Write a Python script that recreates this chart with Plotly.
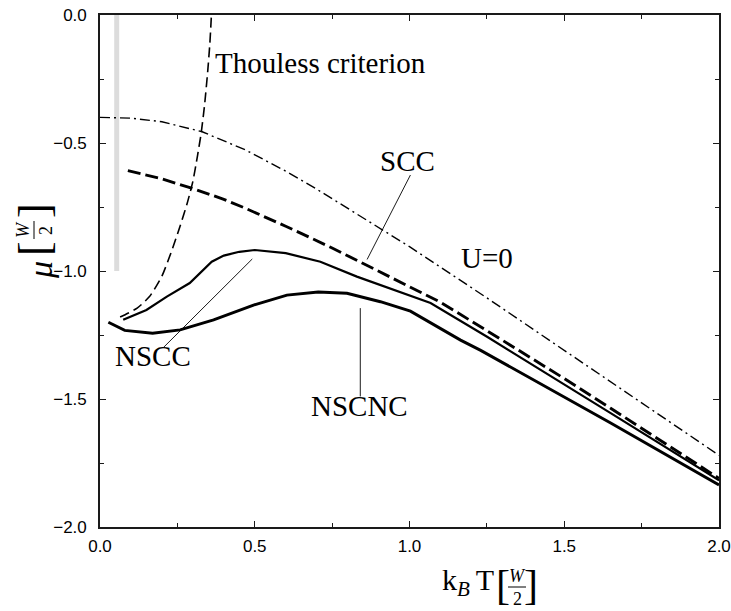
import plotly.graph_objects as go

# ---------------- data ----------------
thouless_x = [0.065, 0.09, 0.12, 0.16, 0.20, 0.232, 0.26, 0.283, 0.30, 0.315, 0.327, 0.338, 0.348, 0.355, 0.36]
thouless_y = [-1.18, -1.165, -1.145, -1.10, -1.02, -0.92, -0.82, -0.73, -0.65, -0.55, -0.46, -0.35, -0.22, -0.11, 0.0]

u0_x = [0.0, 0.1, 0.2, 0.33, 0.47, 0.6, 0.7, 0.8, 0.9, 1.0, 1.25, 1.5, 1.75, 2.0]
u0_y = [-0.400, -0.403, -0.417, -0.456, -0.527, -0.61, -0.68, -0.755, -0.83, -0.905, -1.105, -1.31, -1.515, -1.72]

scc_x = [0.09, 0.2, 0.3, 0.4, 0.47, 0.6, 0.75, 0.9, 1.0, 1.1, 1.25, 1.5, 1.65, 1.8, 2.0]
scc_y = [-0.608, -0.64, -0.678, -0.72, -0.755, -0.825, -0.91, -1.0, -1.062, -1.122, -1.233, -1.42, -1.536, -1.652, -1.81]

nscc_x = [0.075, 0.1, 0.15, 0.216, 0.29, 0.361, 0.4, 0.45, 0.5, 0.6, 0.712, 0.83, 0.95, 1.068, 1.252, 1.5, 1.65, 2.0]
nscc_y = [-1.19, -1.178, -1.152, -1.10, -1.047, -0.964, -0.94, -0.925, -0.918, -0.93, -0.964, -1.022, -1.075, -1.125, -1.258, -1.445, -1.555, -1.818]

nscnc_x = [0.027, 0.08, 0.17, 0.259, 0.367, 0.496, 0.604, 0.705, 0.798, 0.906, 1.003, 1.165, 1.23, 1.5, 1.65, 2.0]
nscnc_y = [-1.20, -1.232, -1.243, -1.23, -1.191, -1.133, -1.094, -1.082, -1.087, -1.12, -1.157, -1.27, -1.31, -1.493, -1.594, -1.836]

bar_x = [0.054, 0.054]
bar_y = [0.0, -1.0]

# label texts and their anchor points (data coords)
label_text = ["Thouless criterion", "SCC", "U=0", "NSCC", "NSCNC"]
label_x = [0.364, 0.992, 1.252, 0.17, 0.84]
label_y = [-0.188, -0.572, -0.95, -1.333, -1.528]
label_anchor = ["left", "center", "center", "center", "center"]

# pointer lines from labels to curves
ptr_scc_x = [1.003, 0.863]
ptr_scc_y = [-0.625, -0.955]
ptr_nscc_x = [0.204, 0.492]
ptr_nscc_y = [-1.30, -0.953]
ptr_nscnc_x = [0.841, 0.841]
ptr_nscnc_y = [-1.145, -1.49]

x_ticks = [0.0, 0.5, 1.0, 1.5, 2.0]
y_ticks = [0.0, -0.5, -1.0, -1.5, -2.0]

# ---------------- figure ----------------
FW, FH = 731, 611
ML, MR, MT, MB = 100, 12, 15, 84


def pp(x, y):
    return (x - ML) / (FW - ML - MR), (FH - MB - y) / (FH - MT - MB)


fig = go.Figure()

fig.add_trace(go.Scatter(x=bar_x, y=bar_y, mode="lines",
                         line=dict(color="#dcdcdc", width=5), hoverinfo="skip"))
fig.add_trace(go.Scatter(x=u0_x, y=u0_y, mode="lines",
                         line=dict(color="black", width=1.4, dash="10px,4px,2px,4px")))
fig.add_trace(go.Scatter(x=thouless_x, y=thouless_y, mode="lines",
                         line=dict(color="black", width=1.6, dash="10px,5px", shape="spline", smoothing=0.6)))
fig.add_trace(go.Scatter(x=scc_x, y=scc_y, mode="lines",
                         line=dict(color="black", width=2.9, dash="13px,5px")))
fig.add_trace(go.Scatter(x=nscc_x, y=nscc_y, mode="lines",
                         line=dict(color="black", width=2.2)))
fig.add_trace(go.Scatter(x=nscnc_x, y=nscnc_y, mode="lines",
                         line=dict(color="black", width=2.9)))
for px_, py_ in [(ptr_scc_x, ptr_scc_y), (ptr_nscc_x, ptr_nscc_y), (ptr_nscnc_x, ptr_nscnc_y)]:
    fig.add_trace(go.Scatter(x=px_, y=py_, mode="lines", line=dict(color="black", width=0.9)))

serif = "Liberation Serif"
for t, x, y, a in zip(label_text, label_x, label_y, label_anchor):
    fig.add_annotation(x=x, y=y, text=t, showarrow=False, xanchor=a, yanchor="middle",
                       font=dict(family=serif, size=29, color="black"))

annots = []
# x-axis title: k_B T [W/2]
x0, y0 = pp(496, 582)
annots.append(dict(x=x0, y=y0, text="k<sub><i>B</i></sub>\u2009T", xanchor="right", yanchor="middle",
                   font=dict(family=serif, size=30, color="black")))
for txt, cx, cy, sz, it in [("[", 503, 585, 42, False), ("]", 531, 585, 42, False),
                            ("W", 517, 576, 18, True), ("2", 517, 599, 18, False)]:
    a, b = pp(cx, cy)
    annots.append(dict(x=a, y=b, text=(f"<i>{txt}</i>" if it else txt), xanchor="center", yanchor="middle",
                       font=dict(family=serif, size=sz, color="black")))
# y-axis title: mu [W/2] (rotated)
for txt, cx, cy, sz, it in [("μ", 40, 270, 34, True), ("[", 34, 249, 44, False), ("]", 34, 211, 44, False),
                            ("W", 23, 230, 18, True), ("2", 46, 230, 18, False)]:
    a, b = pp(cx, cy)
    annots.append(dict(x=a, y=b, text=(f"<i>{txt}</i>" if it else txt), xanchor="center", yanchor="middle",
                       textangle=-90, font=dict(family=serif, size=sz, color="black")))
for an in annots:
    fig.add_annotation(xref="paper", yref="paper", showarrow=False, **an)

fx0, fy0 = pp(508, 587)
fx1, _ = pp(526, 587)
fig.add_shape(type="line", xref="paper", yref="paper", x0=fx0, x1=fx1, y0=fy0, y1=fy0,
              line=dict(color="black", width=1))
gx0, gy0 = pp(34, 239)
_, gy1 = pp(34, 221)
fig.add_shape(type="line", xref="paper", yref="paper", x0=gx0, x1=gx0, y0=gy0, y1=gy1,
              line=dict(color="black", width=1))

axis_common = dict(showgrid=False, zeroline=False, showline=True, linecolor="#1a1a1a", linewidth=1.6,
                   mirror="ticks", ticks="inside", ticklen=6, tickwidth=1.2, tickcolor="#1a1a1a",
                   automargin=False,
                   tickfont=dict(family="Liberation Sans", size=17, color="black"),
                   minor=dict(ticks="inside", ticklen=4, tickwidth=1, tickcolor="#1a1a1a"))

fig.update_xaxes(range=[0, 2.0], tickvals=x_ticks, ticktext=[f"{v:.1f}" for v in x_ticks],
                 minor_dtick=0.25, ticklabelstandoff=3, **axis_common)
fig.update_yaxes(range=[-2.0, 0.0], tickvals=y_ticks, ticktext=[f"{v:.1f}".replace("-", "−") for v in y_ticks],
                 minor_dtick=0.25, ticklabelstandoff=8, **axis_common)

fig.update_layout(width=FW, height=FH, margin=dict(l=ML, r=MR, t=MT, b=MB, autoexpand=False),
                  plot_bgcolor="white", paper_bgcolor="white", showlegend=False)

fig.write_html("out.html")
